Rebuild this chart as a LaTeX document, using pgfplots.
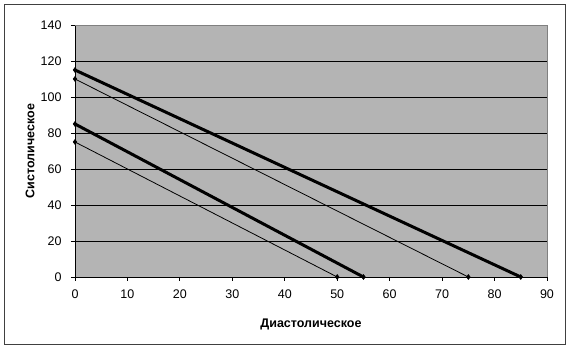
\documentclass[border=0pt]{standalone}
\usepackage{fontspec}
\setmainfont{Liberation Sans}
\usepackage{pgfplots}
\pgfplotsset{compat=1.18}
\definecolor{plotbg}{RGB}{180,180,180}
\begin{document}
\begin{tikzpicture}[x=1pt,y=1pt]
\path (-75,-73) rectangle (495,277);
\draw[black!75, line width=1pt] (-70,-68) rectangle (490,272);
\begin{axis}[
  scale only axis, width=472pt, height=252pt,
  at={(0,0)}, anchor=south west,
  xmin=0, xmax=90, ymin=0, ymax=140,
  xtick={0,10,...,90}, ytick={0,20,...,140},
  axis background/.style={fill=plotbg},
  axis x line*=bottom, axis y line*=left,
  axis line style={black, line width=0.8pt, -},
  tick style={black, line width=0.8pt},
  tick align=outside, major tick length=4pt,
  ymajorgrids, grid style={black, line width=0.8pt},
  font=\fontsize{12.5}{15}\selectfont,
  /pgf/number format/assume math mode=true,
  xlabel={\bfseries Диастолическое},
  ylabel={\bfseries Систолическое},
  xlabel style={at={(axis description cs:0.5,-0.19)}, anchor=center},
  ylabel style={at={(axis description cs:-0.095,0.5)}, anchor=center},
  yticklabel style={xshift=-6pt},
  xticklabel style={yshift=-5pt},
  clip=false,
]
\draw[gray, line width=0.6pt] (rel axis cs:0,1) -- (rel axis cs:1,1) -- (rel axis cs:1,0);
\addplot[black, line width=3pt, mark=diamond*, mark size=2.5pt, mark options={line width=0.5pt}] coordinates {(0,115) (85,0)};
\addplot[black, line width=0.8pt, mark=diamond*, mark size=2.5pt, mark options={line width=0.5pt}] coordinates {(0,110) (75,0)};
\addplot[black, line width=3pt, mark=diamond*, mark size=2.5pt, mark options={line width=0.5pt}] coordinates {(0,85) (55,0)};
\addplot[black, line width=0.8pt, mark=diamond*, mark size=2.5pt, mark options={line width=0.5pt}] coordinates {(0,75) (50,0)};
\end{axis}
\end{tikzpicture}
\end{document}
